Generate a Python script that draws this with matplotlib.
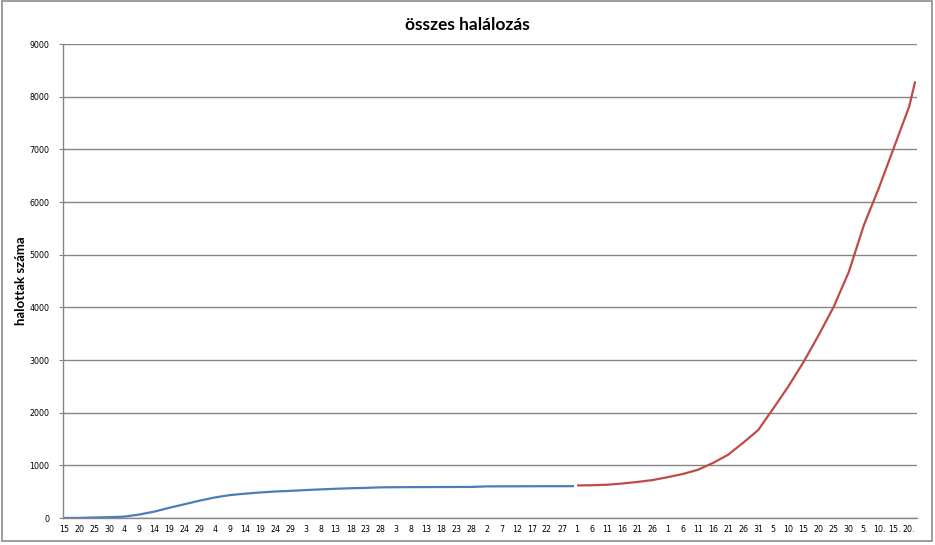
import pandas as pd
import matplotlib
matplotlib.use('Agg')
import matplotlib.pyplot as plt

# cumulative deaths (every 5th day)
start = pd.Timestamp('2020-03-15')

blue_dates = ['03-15', '03-20', '03-25', '03-30', '04-04', '04-09', '04-14', '04-19',
              '04-24', '04-29', '05-04', '05-09', '05-14', '05-19', '05-24', '05-29',
              '06-03', '06-08', '06-13', '06-18', '06-23', '06-28', '07-03', '07-08',
              '07-13', '07-18', '07-23', '07-28', '08-02', '08-07', '08-12', '08-17',
              '08-22', '08-27', '08-31']
blue_vals = [1, 1, 10, 15, 26, 66, 122, 195, 262, 330, 390, 435, 462, 485, 503, 515,
             530, 543, 555, 565, 572, 582, 585, 586, 587, 588, 589, 590, 600, 601,
             602, 603, 604, 604, 605]

red_dates = ['09-01', '09-06', '09-11', '09-16', '09-21', '09-26', '10-01', '10-06',
             '10-11', '10-16', '10-21', '10-26', '10-31', '11-05', '11-10', '11-15',
             '11-20', '11-25', '11-30', '12-05', '12-10', '12-15', '12-20', '12-22']
red_vals = [618, 622, 632, 655, 685, 720, 775, 835, 915, 1045, 1200, 1428, 1670, 2080,
            2500, 2960, 3470, 4010, 4670, 5560, 6270, 7040, 7810, 8290]

tick_labels = ['15', '20', '25', '30',
               '4', '9', '14', '19', '24', '29',
               '4', '9', '14', '19', '24', '29',
               '3', '8', '13', '18', '23', '28',
               '3', '8', '13', '18', '23', '28',
               '2', '7', '12', '17', '22', '27',
               '1', '6', '11', '16', '21', '26',
               '1', '6', '11', '16', '21', '26', '31',
               '5', '10', '15', '20', '25', '30',
               '5.', '10.', '15.', '20.']


def to_days(dates):
    return [(pd.Timestamp('2020-' + d) - start).days for d in dates]


blue_x = to_days(blue_dates)
red_x = to_days(red_dates)
tick_x = [i * 5 for i in range(len(tick_labels))]

grid_col = '#868686'

fig = plt.figure(figsize=(9.35, 5.45), dpi=100)
ax = fig.add_axes([63 / 935, 1 - 518 / 545, 854 / 935, 474 / 545])

ax.plot(blue_x, blue_vals, color='#4A7EBB', lw=1.6, solid_capstyle='butt')
ax.plot(red_x, red_vals, color='#BE4B48', lw=1.6, solid_capstyle='butt')

ax.set_xlim(-0.3, 282.6)
ax.set_ylim(0, 9000)
ax.set_yticks(range(0, 9001, 1000))
ax.set_xticks(tick_x)
ax.set_xticklabels(tick_labels)

ax.grid(axis='y', color=grid_col, lw=1)
ax.set_axisbelow(True)
for side in ['top', 'right']:
    ax.spines[side].set_visible(False)
for side in ['left', 'bottom']:
    ax.spines[side].set_color(grid_col)
    ax.spines[side].set_linewidth(1)

ax.tick_params(axis='y', length=3, color=grid_col, labelsize=5.7, pad=7)
ax.tick_params(axis='x', length=0, labelsize=5.7, pad=5)

ax.set_ylabel('halottak száma', family='Lato', fontweight='bold', fontsize=9.5)
ax.yaxis.set_label_coords(-0.042, 0.5)

fig.text(0.5, 1 - 25 / 545, 'összes halálozás', family='Lato', fontweight='bold',
         fontsize=12.5, ha='center', va='center')

# outer chart frame
fig.patches.append(plt.Rectangle((2 / 935, 4 / 545), 930 / 935, 540 / 545,
                                 transform=fig.transFigure, fill=False,
                                 edgecolor='#8c8c8c', lw=1.2))

fig.savefig('out.png', dpi=100, facecolor='white')
